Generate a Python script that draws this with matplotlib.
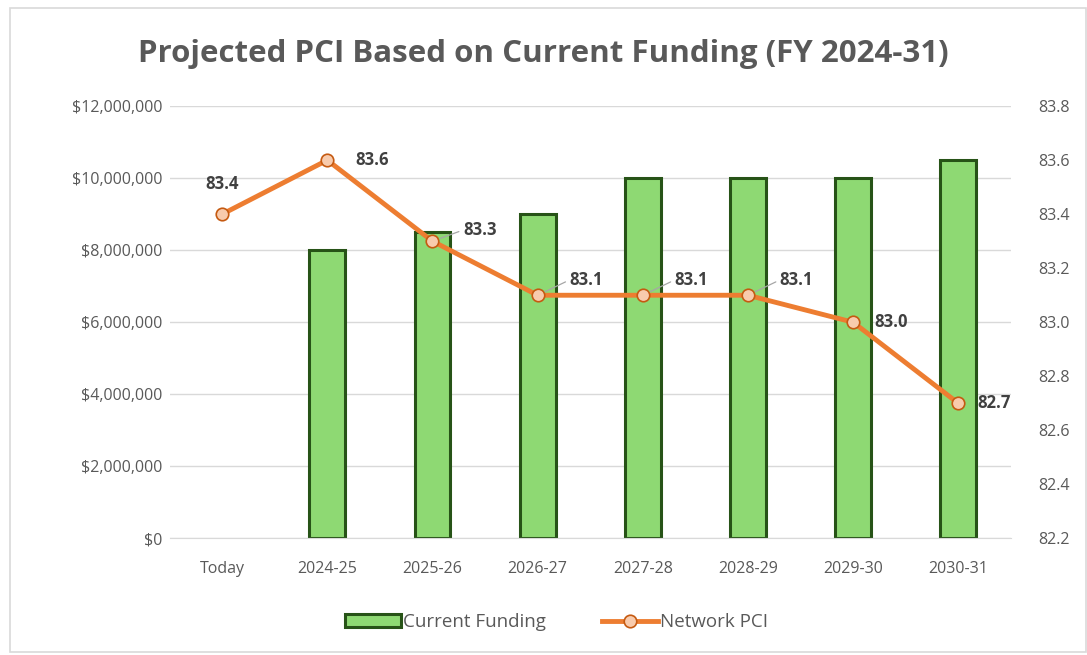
import matplotlib.pyplot as plt
import numpy as np
from matplotlib.patches import Rectangle

# chart data
years = ['Today', '2024-25', '2025-26', '2026-27', '2027-28', '2028-29', '2029-30', '2030-31']
funding = [np.nan, 8000000, 8500000, 9000000, 10000000, 10000000, 10000000, 10500000]
pci = [83.4, 83.6, 83.3, 83.1, 83.1, 83.1, 83.0, 82.7]
# label offsets in points (dx, dy) and whether a leader line is drawn
label_offsets = [(0, 22), (32, 0), (34, 8), (35, 11), (35, 11), (35, 11), (27, 0), (26, 0)]
leaders = [False, False, True, True, True, True, False, False]

plt.rcParams['font.family'] = ['Open Sans', 'DejaVu Sans']
grey = '#595959'

fig = plt.figure(figsize=(10.87, 6.55), dpi=100)
fig.patches.append(Rectangle((0.009, 0.005), 0.99, 0.983, transform=fig.transFigure,
                             fill=False, edgecolor='#d9d9d9', linewidth=1.2))

ax = fig.add_axes([0.156, 0.178, 0.774, 0.66])
x = np.arange(len(years))
ax.bar(x, funding, width=0.34, color='#8ed973', edgecolor='#275317', linewidth=2.2,
       zorder=2, label='Current Funding')
ax.set_ylim(0, 12000000)
ax.set_yticks(np.arange(0, 12000001, 2000000))
ax.set_yticklabels(['${:,.0f}'.format(v) for v in ax.get_yticks()])
ax.set_xlim(-0.5, len(years) - 0.5)
ax.set_xticks(x)
ax.set_xticklabels(years)
ax.grid(axis='y', color='#d9d9d9', linewidth=1, zorder=0)
ax.set_axisbelow(True)
for s in ax.spines.values():
    s.set_visible(False)
ax.spines['bottom'].set_visible(True)
ax.spines['bottom'].set_color('#d9d9d9')
ax.tick_params(length=0, colors=grey, labelsize=11.5)
ax.tick_params(axis='x', pad=16)
ax.tick_params(axis='y', pad=5)

ax2 = ax.twinx()
ax2.plot(x, pci, color='#ed7d31', linewidth=3.5, marker='o', markersize=9,
         markerfacecolor='#f8cbad', markeredgecolor='#c55a11', markeredgewidth=1.2,
         zorder=3, label='Network PCI')
ax2.set_ylim(82.2, 83.8)
ax2.set_yticks(np.arange(82.2, 83.81, 0.2))
ax2.set_yticklabels(['{:.1f}'.format(v) for v in np.arange(82.2, 83.81, 0.2)])
for s in ax2.spines.values():
    s.set_visible(False)
ax2.tick_params(length=0, colors=grey, labelsize=11.5, pad=20)

for i, v in enumerate(pci):
    dx, dy = label_offsets[i]
    arrow = None
    if leaders[i]:
        arrow = dict(arrowstyle='-', color='#a6a6a6', lw=0.9, relpos=(0, 0.5),
                     shrinkA=1, shrinkB=6)
    ax2.annotate('{:.1f}'.format(v), (x[i], v), xytext=(dx, dy), textcoords='offset points',
                 ha='center', va='center', fontsize=12, fontweight='bold', color='#404040',
                 arrowprops=arrow)

fig.text(0.5, 0.918, 'Projected PCI Based on Current Funding (FY 2024-31)', ha='center',
         va='center', fontsize=22.5, fontweight='bold', color=grey)

h1, l1 = ax.get_legend_handles_labels()
h2, l2 = ax2.get_legend_handles_labels()
fig.legend(h1 + h2, l1 + l2, loc='center', bbox_to_anchor=(0.512, 0.05), ncol=2,
           frameon=False, fontsize=13.5, labelcolor=grey, handlelength=3.0,
           handletextpad=0.1, columnspacing=3.0)

fig.savefig('out.png', dpi=100)
